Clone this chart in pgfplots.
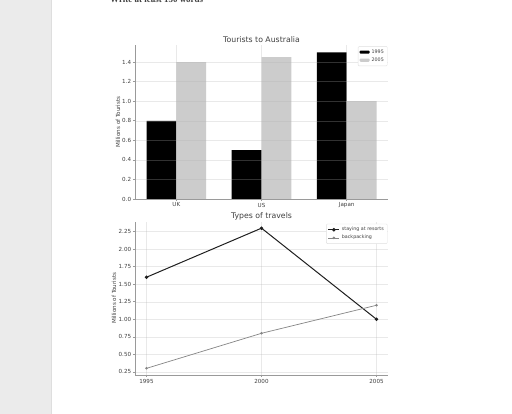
\documentclass[border=0pt]{standalone}
\usepackage{fontspec}
\setmainfont{DejaVu Sans}
\newfontfamily\pageserif{Liberation Serif}
\usepackage{pgfplots}
\pgfplotsset{compat=1.18}

\definecolor{pagegray}{HTML}{EBEBEB}
\definecolor{edgegray}{HTML}{DEDEDE}
\definecolor{spine}{HTML}{9A9A9A}
\definecolor{txt}{HTML}{404040}
\definecolor{gridc}{HTML}{B0B0B0}
\definecolor{legc}{HTML}{E0E0E0}
\definecolor{bar05}{HTML}{CCCCCC}
\definecolor{pack}{HTML}{858585}

\pgfplotsset{
  mplstyle/.style={
    scale only axis, width=253bp,
    axis lines*=left,
    axis line style={spine, line width=0.8bp},
    tick align=outside, major tick length=2.2bp,
    tick style={spine, line width=0.6bp},
    grid=major, major grid style={gridc, line width=0.5bp, opacity=0.28},
    /pgf/number format/assume math mode=true,
    ticklabel style={font=\fontsize{5.6}{6.5}\selectfont, text=txt, inner sep=1.5bp},
    every axis title shift=0pt,
    title style={font=\fontsize{7.8}{9}\selectfont, text=txt,
      at={(axis description cs:0.5,1)}, anchor=base, yshift=3bp, inner sep=0pt},
    ylabel style={font=\fontsize{5.6}{6.5}\selectfont, text=txt, anchor=center},
    legend style={font=\fontsize{4.8}{5.5}\selectfont, text=txt,
      draw=legc, fill=white, rounded corners=1bp,
      inner xsep=1.5bp, inner ysep=1.2bp, row sep=-1bp,
      anchor=north east},
    legend cell align=left,
  }
}

\begin{document}
\begin{tikzpicture}
\useasboundingbox (0bp,0bp) rectangle (512bp,-414bp);
\fill[white] (0bp,0bp) rectangle (512bp,-414bp);
\fill[pagegray] (0bp,0bp) rectangle (51bp,-414bp);
\draw[edgegray, line width=1bp] (51.5bp,0bp) -- (51.5bp,-414bp);
\begin{scope}
  \clip (0bp,0bp) rectangle (512bp,-414bp);
  \node[anchor=base west, inner sep=0pt, text=black!75,
    font=\pageserif\bfseries\fontsize{9}{10}\selectfont] at (110bp,-2.2bp)
    {Write at least 150 words};
\end{scope}

% bar chart
\begin{axis}[mplstyle, height=154bp,
  at={(135bp,-45bp)}, anchor=north west,
  axis on top,
  ybar, bar width=0.35,
  xmin=-0.485, xmax=2.485, ymin=0, ymax=1.575,
  xtick={0,1,2}, xticklabels={UK,US,Japan},
  ytick={0,0.2,0.4,0.6,0.8,1.0,1.2,1.4},
  yticklabel style={/pgf/number format/.cd, fixed, fixed zerofill, precision=1},
  title={Tourists to Australia},
  ylabel={Millions of Tourists},
  ylabel style={at={(axis description cs:-0.067,0.5)}},
  legend style={at={(axis description cs:0.998,0.992)}},
  legend image code/.code={\fill[#1] (0bp,-1.6bp) rectangle (10bp,1.6bp);},
]
\addplot[fill=black, draw=none, bar shift=-0.175] coordinates {(0,0.8) (1,0.5) (2,1.5)};
\addplot[fill=bar05, draw=none, bar shift=0.175] coordinates {(0,1.4) (1,1.45) (2,1.0)};
\legend{1995,2005}
\end{axis}

% line chart
\begin{axis}[mplstyle, height=153.5bp,
  at={(135bp,-221.5bp)}, anchor=north west,
  xmin=1994.5, xmax=2005.5, ymin=0.205, ymax=2.395,
  xtick={1995,2000,2005},
  ytick={0.25,0.5,0.75,1.0,1.25,1.5,1.75,2.0,2.25},
  xticklabel style={/pgf/number format/set thousands separator={}},
  yticklabel style={/pgf/number format/.cd, fixed, fixed zerofill, precision=2},
  title={Types of travels},
  ylabel={Millions of Tourists},
  ylabel style={at={(axis description cs:-0.083,0.5)}},
  legend style={at={(axis description cs:0.998,0.985)}},
  legend image code/.code={\draw[mark repeat=2, mark phase=2, #1]
    plot coordinates {(0bp,0bp) (5.5bp,0bp) (11bp,0bp)};},
]
\addplot[color=black!88, line width=1bp, mark=*, mark size=1.2bp] coordinates {(1995,1.6) (2000,2.3) (2005,1.0)};
\addplot[color=pack, line width=0.7bp, mark=*, mark size=0.9bp] coordinates {(1995,0.3) (2000,0.8) (2005,1.2)};
\legend{staying at resorts, backpacking}
\end{axis}
\end{tikzpicture}
\end{document}
